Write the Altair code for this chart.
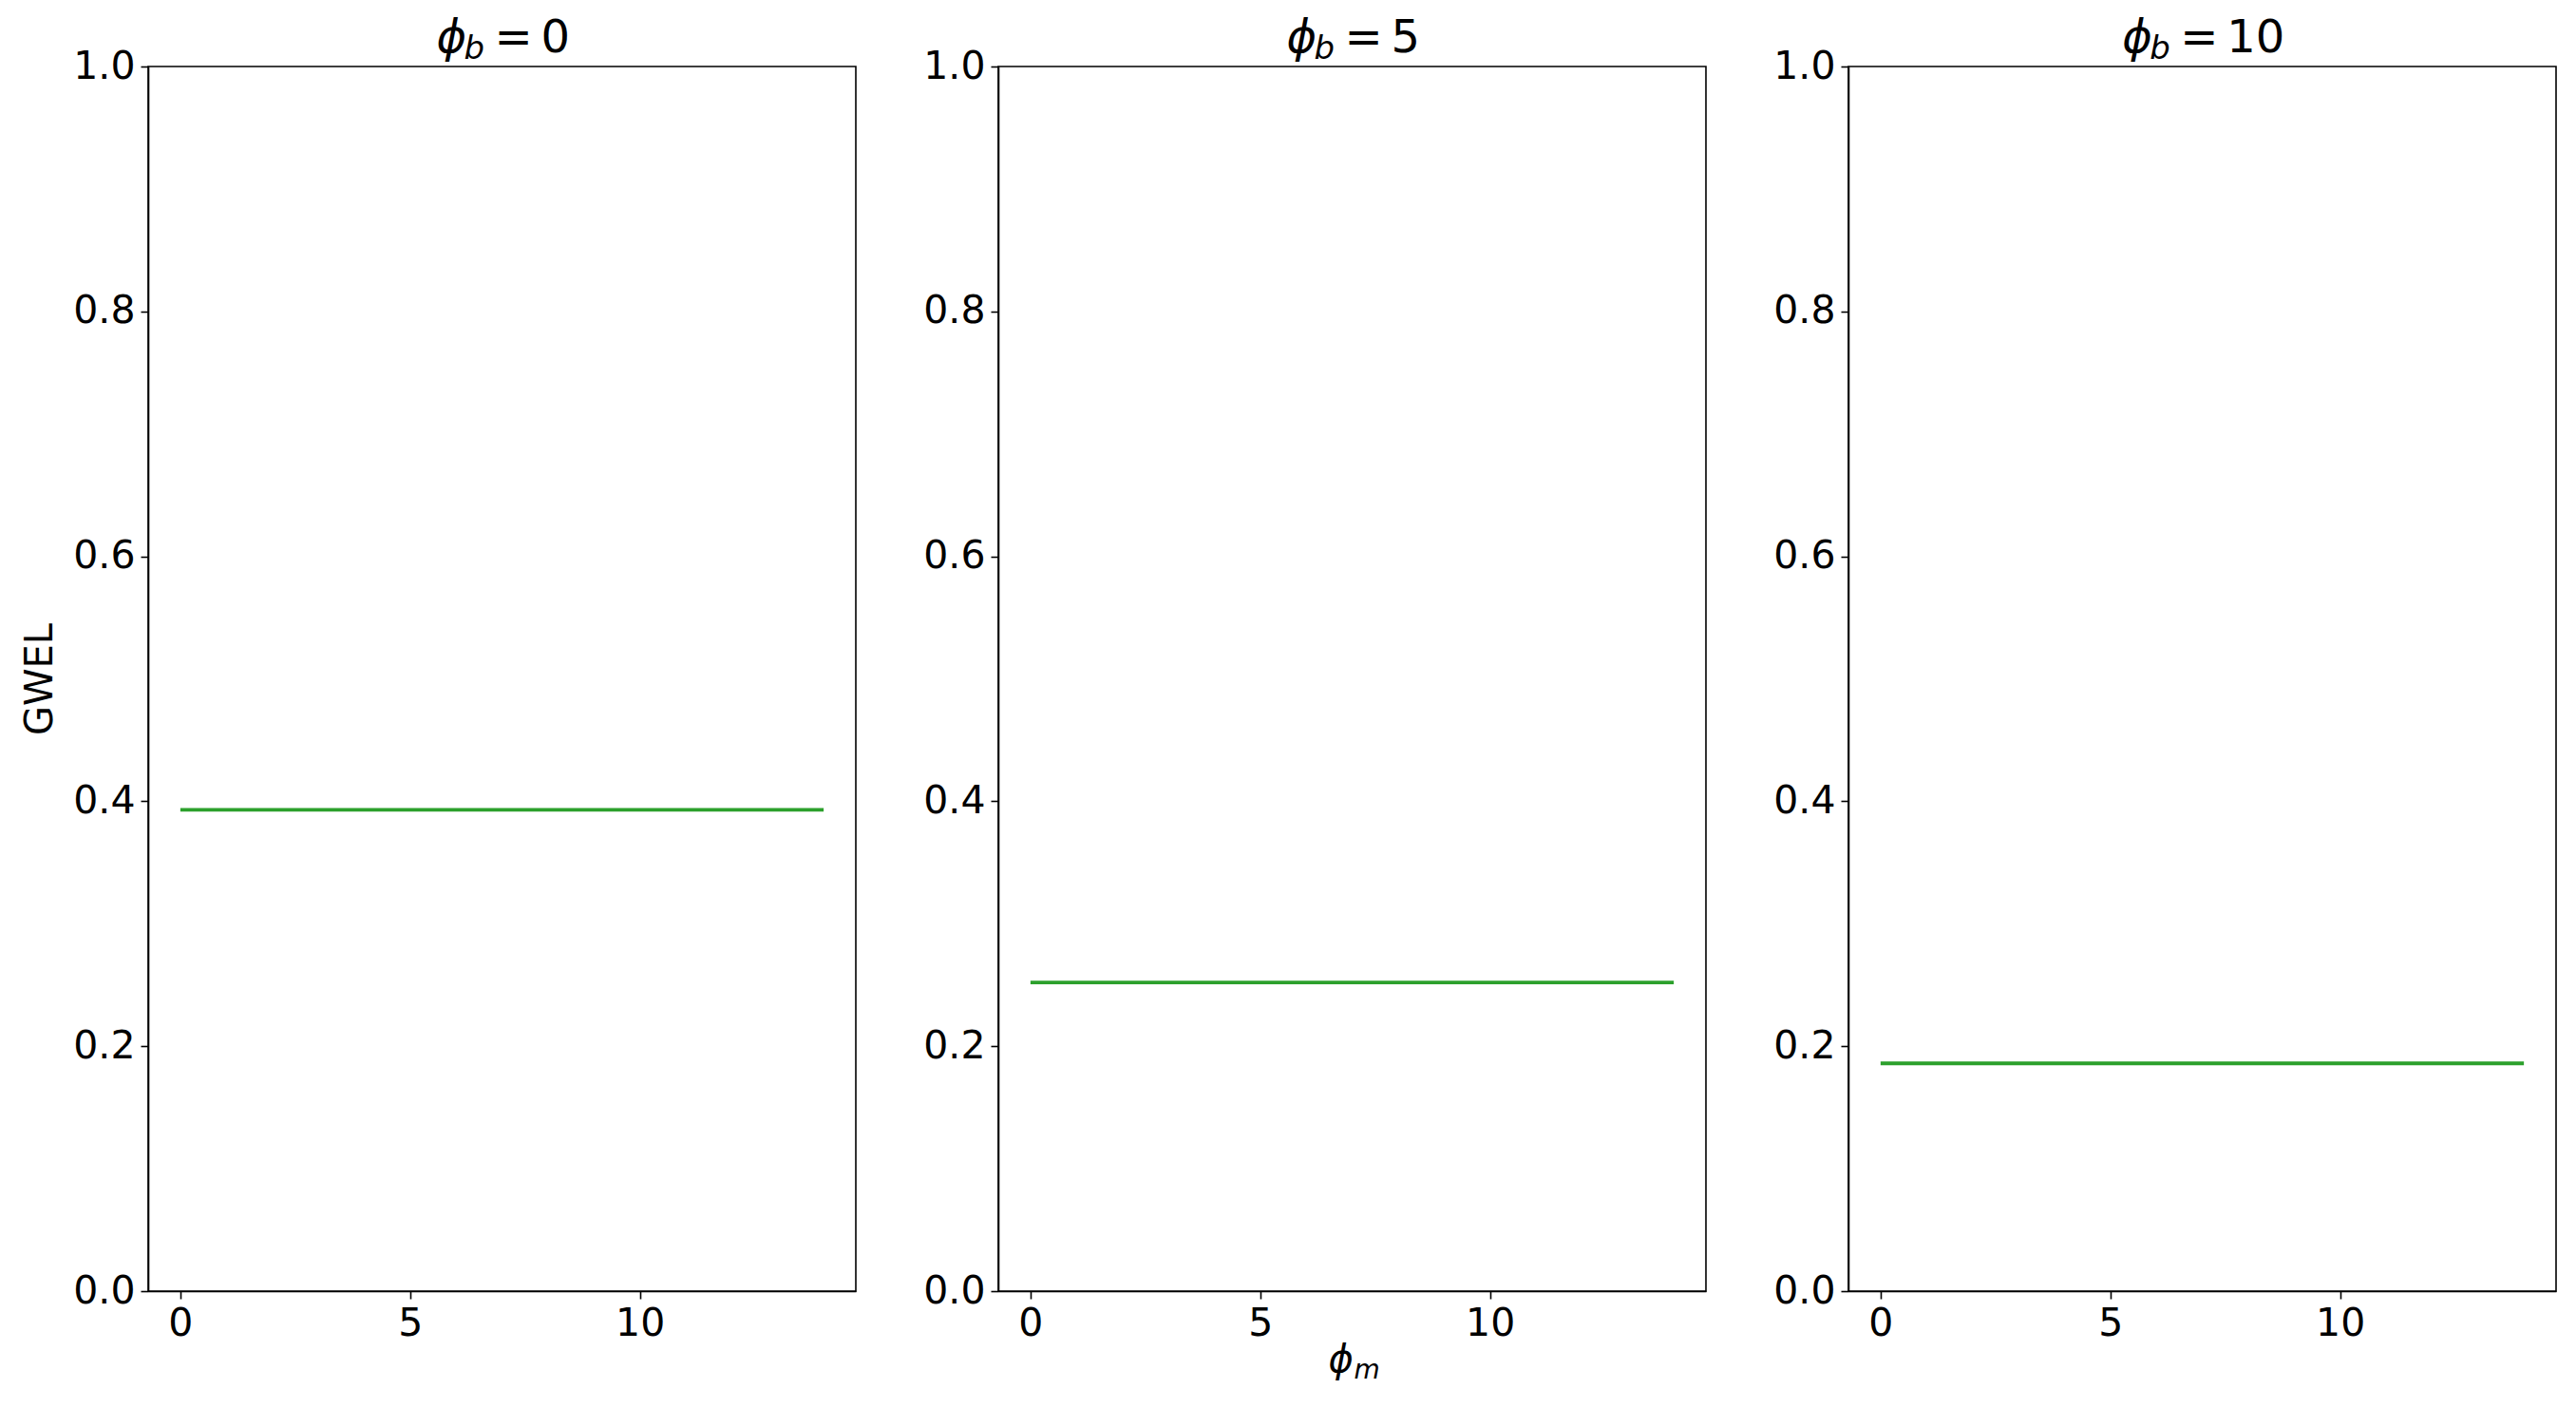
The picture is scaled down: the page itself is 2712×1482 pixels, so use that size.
import altair as alt
import pandas as pd

# ---- data ----
PHI_M = [0, 1, 2, 3, 4, 5, 6, 7, 8, 9, 10, 11, 12, 13, 14]
PHI_B_LABELS = ["0", "5", "10"]
GWEL_B0 = [0.393, 0.393, 0.393, 0.393, 0.393, 0.393, 0.393, 0.393, 0.393, 0.393, 0.393, 0.393, 0.393, 0.393, 0.393]
GWEL_B5 = [0.252, 0.252, 0.252, 0.252, 0.252, 0.252, 0.252, 0.252, 0.252, 0.252, 0.252, 0.252, 0.252, 0.252, 0.252]
GWEL_B10 = [0.186, 0.186, 0.186, 0.186, 0.186, 0.186, 0.186, 0.186, 0.186, 0.186, 0.186, 0.186, 0.186, 0.186, 0.186]
SERIES = [GWEL_B0, GWEL_B5, GWEL_B10]
X_TICKS = [0, 5, 10]
Y_TICKS = [0.0, 0.2, 0.4, 0.6, 0.8, 1.0]

W, H = 745, 1289
FONT = "DejaVu Sans"
GREEN = "#2ca02c"

panels = []
for i, (lab, vals) in enumerate(zip(PHI_B_LABELS, SERIES)):
    df = pd.DataFrame({"phi_m": PHI_M, "gwel": vals})
    line = alt.Chart(df).mark_line(color=GREEN, strokeWidth=3.8).encode(
        x=alt.X("phi_m:Q",
                scale=alt.Scale(domain=[-0.7, 14.7], nice=False, zero=False),
                axis=alt.Axis(values=X_TICKS, title=None)),
        y=alt.Y("gwel:Q",
                scale=alt.Scale(domain=[0, 1], nice=False),
                axis=alt.Axis(values=Y_TICKS, format=".1f",
                              title=("GWEL" if i == 0 else None))),
    )
    one = pd.DataFrame({"t": [lab]})
    c = W / 2
    shift = -(len(lab) - 1) * 15.25
    t_phi = alt.Chart(one).mark_text(text="ϕ", font=FONT, fontSize=48, fontStyle="italic",
                                     align="left", baseline="alphabetic", color="black").encode(
        x=alt.value(c - 69 + shift), y=alt.value(-15))
    t_sub = alt.Chart(one).mark_text(text="b", font=FONT, fontSize=34, fontStyle="italic",
                                     align="left", baseline="alphabetic", color="black").encode(
        x=alt.value(c - 40 + shift), y=alt.value(-8))
    t_eq = alt.Chart(one).mark_text(text="=", font=FONT, fontSize=48,
                                    align="left", baseline="alphabetic", color="black").encode(
        x=alt.value(c - 8 + shift), y=alt.value(-15))
    t_val = alt.Chart(one).mark_text(font=FONT, fontSize=48,
                                     align="left", baseline="alphabetic", color="black").encode(
        x=alt.value(c + 41 + shift), y=alt.value(-15), text="t:N")
    layers = [line, t_phi, t_sub, t_eq, t_val]
    if i == 1:
        x_phi = alt.Chart(one).mark_text(text="ϕ", font=FONT, fontSize=40, fontStyle="italic",
                                         align="left", baseline="alphabetic", color="black").encode(
            x=alt.value(c - 25), y=alt.value(H + 85))
        x_sub = alt.Chart(one).mark_text(text="m", font=FONT, fontSize=28, fontStyle="italic",
                                         align="left", baseline="alphabetic", color="black").encode(
            x=alt.value(c + 2), y=alt.value(H + 92))
        layers += [x_phi, x_sub]
    panels.append(alt.layer(*layers).properties(width=W, height=H))

chart = alt.hconcat(*panels, spacing=68).configure_view(
    stroke="black", strokeWidth=1.6
).configure_axis(
    labelFont=FONT, labelFontSize=41, labelColor="black", labelFlush=False,
    titleFont=FONT, titleFontSize=40, titleFontWeight="normal", titleColor="black",
    tickColor="black", tickSize=8, tickWidth=1.6,
    domainColor="black", domainWidth=1.6, grid=False,
    labelPadding=6, titlePadding=14,
).properties(
    padding={"left": 13, "top": 8, "right": 5, "bottom": 5},
    background="white",
)

chart.save("out.html", embed_options={"renderer": "svg", "actions": False})
